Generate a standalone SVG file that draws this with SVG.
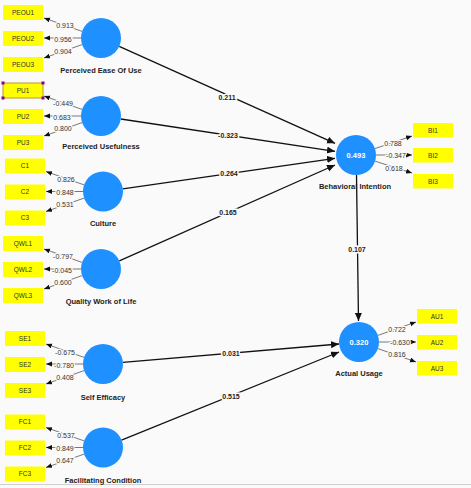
<svg xmlns="http://www.w3.org/2000/svg" width="471" height="488" viewBox="0 0 471 488">
<defs>
<style>
.bg{fill:#fafafa}
.lv{fill:#1e90ff}
.ind{fill:#ffff00}
.it{font-family:"Liberation Sans",Arial,sans-serif;font-size:6.5px;fill:#333;text-anchor:middle}
.cl{font-family:"Liberation Sans",Arial,sans-serif;font-size:7.5px;font-weight:bold;fill:#222;text-anchor:middle}
.r2{font-family:"Liberation Sans",Arial,sans-serif;font-size:7.5px;font-weight:bold;fill:#fff;text-anchor:middle}
.path{stroke:#111;stroke-width:1.3;fill:none;marker-end:url(#ah)}
.load{stroke:#555;stroke-width:0.8;fill:none;marker-end:url(#sh)}
.pl{font-family:"Liberation Sans",Arial,sans-serif;font-size:7px;font-weight:bold;fill:#222;text-anchor:middle;stroke:#fafafa;stroke-width:3;paint-order:stroke}
.ll{font-family:"Liberation Sans",Arial,sans-serif;font-size:7px;fill:#333;text-anchor:middle;stroke:#fafafa;stroke-width:2.5;paint-order:stroke}
</style>
<marker id="ah" markerUnits="userSpaceOnUse" markerWidth="9" markerHeight="8" refX="8" refY="3.5" orient="auto"><path d="M0,0 L8,3.5 L0,7 z" fill="#111"/></marker>
<marker id="sh" markerUnits="userSpaceOnUse" markerWidth="7" markerHeight="6" refX="6" refY="2.5" orient="auto"><path d="M0,0 L6,2.5 L0,5 z" fill="#111"/></marker>
</defs>
<rect class="bg" x="0" y="0" width="471" height="488"/>
<line x1="0" y1="484.5" x2="471" y2="484.5" stroke="#cfcfcf" stroke-width="1"/>

<g id="connectors">
  <line class="path" x1="119.2" y1="46.3" x2="335" y2="143.3"/>
  <line class="path" x1="120.8" y1="119" x2="335" y2="151.3"/>
  <line class="path" x1="122.8" y1="188.8" x2="335" y2="158.3"/>
  <line class="path" x1="119.3" y1="260.9" x2="335" y2="165"/>
  <line class="path" x1="356.5" y1="175" x2="358.5" y2="321"/>
  <line class="path" x1="122.9" y1="362.3" x2="339" y2="344"/>
  <line class="path" x1="121.5" y1="440.2" x2="339" y2="352"/>
  <text class="pl" x="227" y="99.5">0.211</text>
  <text class="pl" x="228" y="138">-0.323</text>
  <text class="pl" x="229" y="176">0.264</text>
  <text class="pl" x="228" y="214.5">0.165</text>
  <text class="pl" x="357" y="251.5">0.107</text>
  <text class="pl" x="231" y="355.5">0.031</text>
  <text class="pl" x="231" y="398.5">0.515</text>

  <g transform="translate(101,38)">
    <line class="load" x1="-18.9" y1="-6.6" x2="-57" y2="-20"/>
    <line class="load" x1="-20" y1="0" x2="-57" y2="0"/>
    <line class="load" x1="-18.9" y1="6.6" x2="-57" y2="20"/>
    <text class="ll" x="-36" y="-10">0.913</text>
    <text class="ll" x="-38" y="3.5">0.956</text>
    <text class="ll" x="-38" y="15.5">0.904</text>
  </g>
  <g transform="translate(101,116)">
    <line class="load" x1="-18.9" y1="-6.6" x2="-57" y2="-20"/>
    <line class="load" x1="-20" y1="0" x2="-57" y2="0"/>
    <line class="load" x1="-18.9" y1="6.6" x2="-57" y2="20"/>
    <text class="ll" x="-38" y="-10.5">-0.449</text>
    <text class="ll" x="-39" y="3.5">0.683</text>
    <text class="ll" x="-38" y="14.5">0.800</text>
  </g>
  <g transform="translate(103,191.5)">
    <line class="load" x1="-18.9" y1="-6.6" x2="-57" y2="-20"/>
    <line class="load" x1="-20" y1="0" x2="-57" y2="0"/>
    <line class="load" x1="-18.9" y1="6.6" x2="-57" y2="20"/>
    <text class="ll" x="-37" y="-9.5">0.826</text>
    <text class="ll" x="-38" y="3.5">0.848</text>
    <text class="ll" x="-38" y="15.5">0.531</text>
  </g>
  <g transform="translate(101,269)">
    <line class="load" x1="-18.9" y1="-6.6" x2="-57" y2="-20"/>
    <line class="load" x1="-20" y1="0" x2="-57" y2="0"/>
    <line class="load" x1="-18.9" y1="6.6" x2="-57" y2="20"/>
    <text class="ll" x="-38" y="-10.5">-0.797</text>
    <text class="ll" x="-39" y="3.5">-0.045</text>
    <text class="ll" x="-38" y="15.5">0.600</text>
  </g>
  <g transform="translate(103,364)">
    <line class="load" x1="-18.9" y1="-6.6" x2="-57" y2="-20"/>
    <line class="load" x1="-20" y1="0" x2="-57" y2="0"/>
    <line class="load" x1="-18.9" y1="6.6" x2="-57" y2="20"/>
    <text class="ll" x="-38" y="-9.5">-0.675</text>
    <text class="ll" x="-39" y="3.5">-0.780</text>
    <text class="ll" x="-38" y="15.5">0.408</text>
  </g>
  <g transform="translate(103,447.5)">
    <line class="load" x1="-18.9" y1="-6.6" x2="-57" y2="-20"/>
    <line class="load" x1="-20" y1="0" x2="-57" y2="0"/>
    <line class="load" x1="-18.9" y1="6.6" x2="-57" y2="20"/>
    <text class="ll" x="-37" y="-9.5">0.537</text>
    <text class="ll" x="-38" y="3.5">0.849</text>
    <text class="ll" x="-38" y="15.5">0.647</text>
  </g>
  <g transform="translate(356,155)">
    <line class="load" x1="18.9" y1="-6.4" x2="56" y2="-19"/>
    <line class="load" x1="20" y1="0" x2="56" y2="0"/>
    <line class="load" x1="18.9" y1="6.1" x2="56" y2="18"/>
    <text class="ll" x="37" y="-9.5">0.788</text>
    <text class="ll" x="40" y="2.5">-0.347</text>
    <text class="ll" x="38" y="15.5">0.618</text>
  </g>
  <g transform="translate(359,342)">
    <line class="load" x1="18.9" y1="-6.6" x2="57" y2="-20"/>
    <line class="load" x1="20" y1="0" x2="57" y2="0"/>
    <line class="load" x1="18.9" y1="6.6" x2="57" y2="20"/>
    <text class="ll" x="38" y="-10.5">0.722</text>
    <text class="ll" x="41" y="2.5">-0.630</text>
    <text class="ll" x="38" y="14.5">0.816</text>
  </g>
</g>

<g id="PEOU"><circle class="lv" cx="101" cy="38" r="20"/><text class="cl" x="101" y="72.5">Perceived Ease Of Use</text></g>
<g id="PU"><circle class="lv" cx="101" cy="116" r="20"/><text class="cl" x="101" y="149">Perceived Usefulness</text></g>
<g id="C"><circle class="lv" cx="103" cy="191.5" r="20"/><text class="cl" x="103" y="225.5">Culture</text></g>
<g id="QWL"><circle class="lv" cx="101" cy="269" r="20"/><text class="cl" x="101" y="303.5">Quality Work of Life</text></g>
<g id="SE"><circle class="lv" cx="103" cy="364" r="20"/><text class="cl" x="103" y="399.5">Self Efficacy</text></g>
<g id="FC"><circle class="lv" cx="103" cy="447.5" r="20"/><text class="cl" x="103" y="482.5">Facilitating Condition</text></g>
<g id="BI"><circle class="lv" cx="356" cy="155" r="20"/><text class="r2" x="356" y="157.7">0.493</text><text class="cl" x="355" y="188.5">Behavioral Intention</text></g>
<g id="AU"><circle class="lv" cx="359" cy="342" r="20"/><text class="r2" x="359" y="344.7">0.320</text><text class="cl" x="359" y="375.5">Actual Usage</text></g>

<g id="PEOU1"><rect class="ind" x="3" y="5" width="40" height="15"/><text class="it" x="23" y="14.8">PEOU1</text></g>
<g id="PEOU2"><rect class="ind" x="3" y="31" width="40" height="15"/><text class="it" x="23" y="40.8">PEOU2</text></g>
<g id="PEOU3"><rect class="ind" x="3" y="57" width="40" height="15"/><text class="it" x="23" y="66.8">PEOU3</text></g>
<g id="PU1"><rect class="ind" x="3" y="83" width="40" height="15" stroke="#b89a2a" stroke-width="1"/><text class="it" x="23" y="92.8">PU1</text>
  <g fill="#8b008b"><rect x="1.5" y="81.5" width="3" height="3"/><rect x="41.5" y="81.5" width="3" height="3"/><rect x="1.5" y="96.5" width="3" height="3"/><rect x="41.5" y="96.5" width="3" height="3"/></g></g>
<g id="PU2"><rect class="ind" x="3" y="109" width="40" height="15"/><text class="it" x="23" y="118.8">PU2</text></g>
<g id="PU3"><rect class="ind" x="3" y="135" width="40" height="15"/><text class="it" x="23" y="144.8">PU3</text></g>
<g id="C1"><rect class="ind" x="5" y="158.5" width="40" height="15"/><text class="it" x="25" y="168.3">C1</text></g>
<g id="C2"><rect class="ind" x="5" y="184.5" width="40" height="15"/><text class="it" x="25" y="194.3">C2</text></g>
<g id="C3"><rect class="ind" x="5" y="210.5" width="40" height="15"/><text class="it" x="25" y="220.3">C3</text></g>
<g id="QWL1"><rect class="ind" x="3" y="236" width="40" height="15"/><text class="it" x="23" y="245.8">QWL1</text></g>
<g id="QWL2"><rect class="ind" x="3" y="262" width="40" height="15"/><text class="it" x="23" y="271.8">QWL2</text></g>
<g id="QWL3"><rect class="ind" x="3" y="288" width="40" height="15"/><text class="it" x="23" y="297.8">QWL3</text></g>
<g id="SE1"><rect class="ind" x="5" y="331" width="40" height="15"/><text class="it" x="25" y="340.8">SE1</text></g>
<g id="SE2"><rect class="ind" x="5" y="357" width="40" height="15"/><text class="it" x="25" y="366.8">SE2</text></g>
<g id="SE3"><rect class="ind" x="5" y="383" width="40" height="15"/><text class="it" x="25" y="392.8">SE3</text></g>
<g id="FC1"><rect class="ind" x="5" y="414.5" width="40" height="15"/><text class="it" x="25" y="424.3">FC1</text></g>
<g id="FC2"><rect class="ind" x="5" y="440.5" width="40" height="15"/><text class="it" x="25" y="450.3">FC2</text></g>
<g id="FC3"><rect class="ind" x="5" y="466.5" width="40" height="15"/><text class="it" x="25" y="476.3">FC3</text></g>
<g id="BI1"><rect class="ind" x="413" y="123" width="40" height="14.5"/><text class="it" x="433" y="132.6">BI1</text></g>
<g id="BI2"><rect class="ind" x="413" y="148" width="40" height="14.5"/><text class="it" x="433" y="157.6">BI2</text></g>
<g id="BI3"><rect class="ind" x="413" y="174" width="40" height="14.5"/><text class="it" x="433" y="183.6">BI3</text></g>
<g id="AU1"><rect class="ind" x="417" y="309" width="40" height="14.5"/><text class="it" x="437" y="318.6">AU1</text></g>
<g id="AU2"><rect class="ind" x="417" y="335" width="40" height="14.5"/><text class="it" x="437" y="344.6">AU2</text></g>
<g id="AU3"><rect class="ind" x="417" y="361" width="40" height="14.5"/><text class="it" x="437" y="370.6">AU3</text></g>
</svg>
